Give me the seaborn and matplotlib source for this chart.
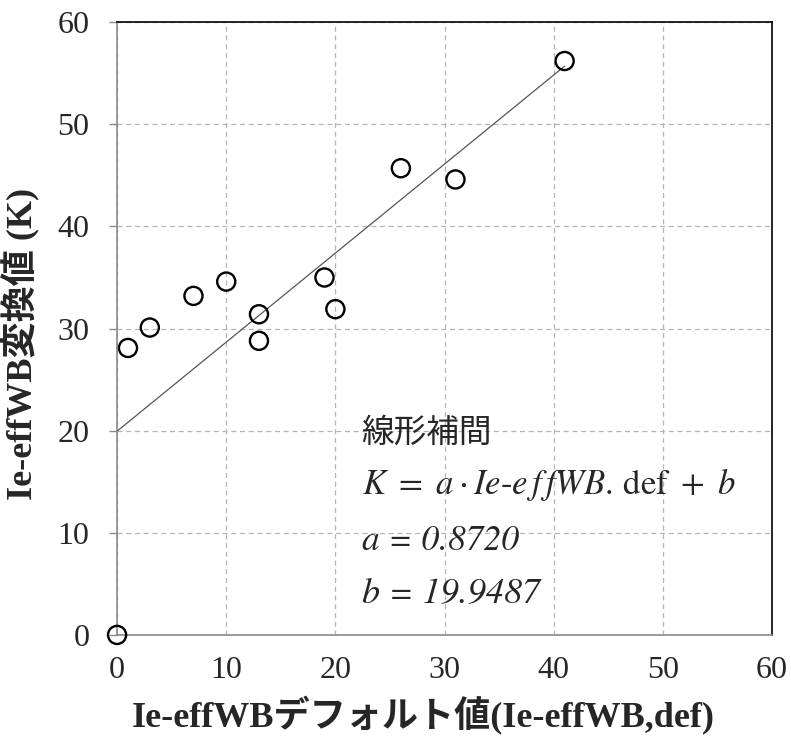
import numpy as np
import pandas as pd
import seaborn as sns
import matplotlib.pyplot as plt

x_def = [0, 1, 3, 7, 10, 13, 13, 19, 20, 26, 31, 41]
k_conv = [0, 28.1, 30.1, 33.2, 34.6, 31.4, 28.8, 35.0, 31.9, 45.7, 44.6, 56.2]

# linear fit coefficients
coef_a = 0.8720
coef_b = 19.9487
fit_x = [0, 41]

x_ticks = [0, 10, 20, 30, 40, 50, 60]
y_ticks = [0, 10, 20, 30, 40, 50, 60]

data = pd.DataFrame({"x": x_def, "k": k_conv})
fit = pd.DataFrame({"x": fit_x, "k": [coef_a * v + coef_b for v in fit_x]})

sns.set_style("whitegrid")
plt.rcParams["font.family"] = ["Liberation Serif", "Noto Sans CJK JP"]
plt.rcParams["mathtext.fontset"] = "stix"

fig = plt.figure(figsize=(7.91, 7.40), dpi=100)
ax = fig.add_axes([0.148, 0.142, 0.828, 0.828])

# fitted line
sns.lineplot(data=fit, x="x", y="k", ax=ax, color="#555555", linewidth=0.9, zorder=2)

# data points (open circles)
sns.scatterplot(data=data, x="x", y="k", ax=ax, marker="o", s=170,
                facecolor="none", edgecolor="black", linewidth=1.7,
                zorder=3, clip_on=False)

ax.set_xlim(0, 60)
ax.set_ylim(0, 60)
ax.set_xticks(x_ticks)
ax.set_yticks(y_ticks)

# grid and frame
ax.grid(True, color="#b5b5b5", linestyle=(0, (4, 3)), linewidth=0.9)
for side in ["left", "bottom"]:
    ax.spines[side].set_color("#8a8a8a")
    ax.spines[side].set_linewidth(1.2)
for side in ["top", "right"]:
    ax.spines[side].set_color("black")
    ax.spines[side].set_linewidth(1.2)
    ax.spines[side].set_visible(True)

ax.tick_params(axis="y", left=True, length=6, width=1, color="#8a8a8a",
               pad=14, labelsize=23)
ax.tick_params(axis="x", bottom=False, length=0, pad=15, labelsize=23)

ax.set_xlabel("Ie-effWBデフォルト値(Ie-effWB,def)", fontsize=26, fontweight="bold")
ax.set_ylabel("Ie-effWB変換値 (K)", fontsize=26, fontweight="bold")
ax.xaxis.set_label_coords(0.467, -0.100)
ax.yaxis.set_label_coords(-0.118, 0.475)

# annotation of the fit
ax.text(22.4, 19.8, "線形補間", fontsize=23.5, va="center", ha="left",
        family=["Noto Sans CJK JP"])
ax.text(22.4, 14.7, r"$K\ =\ a\cdot Ie\text{-}e\,f\,fWB.\,\mathrm{def}\ +\ b$",
        fontsize=25, va="center", ha="left")
ax.text(22.4, 9.2, "a = 0.8720", fontsize=25.5, va="center", ha="left",
        family=["STIXGeneral"], style="italic")
ax.text(22.4, 4.0, "b = 19.9487", fontsize=26, va="center", ha="left",
        family=["STIXGeneral"], style="italic")

fig.savefig("out.png", dpi=100, facecolor="white")
